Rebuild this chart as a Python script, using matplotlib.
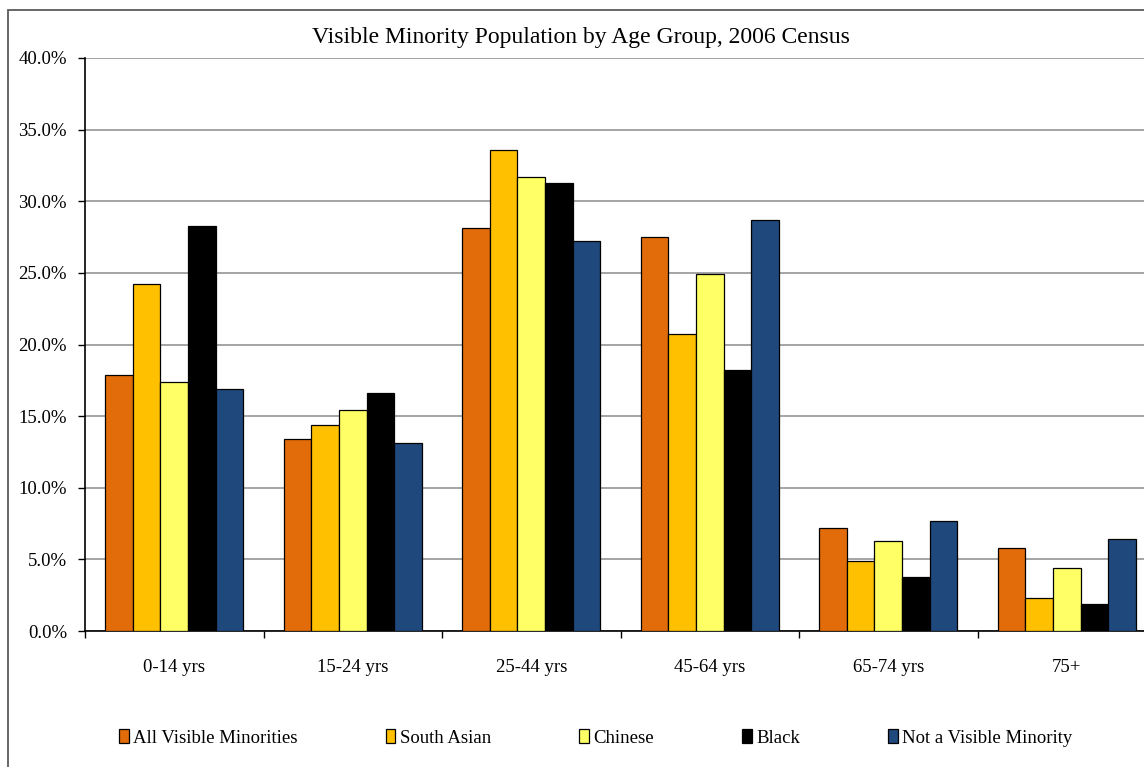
import matplotlib
matplotlib.use("Agg")
import matplotlib.pyplot as plt
import numpy as np
from matplotlib.patches import Rectangle, Patch
from matplotlib.ticker import FuncFormatter, MultipleLocator

plt.rcParams['font.family'] = ['Liberation Serif', 'DejaVu Serif']

age_groups = ["0-14 yrs", "15-24 yrs", "25-44 yrs", "45-64 yrs", "65-74 yrs", "75+"]
series_names = ["All Visible Minorities", "South Asian", "Chinese", "Black",
                "Not a Visible Minority"]
all_visible = [17.9, 13.4, 28.1, 27.5, 7.2, 5.8]
south_asian = [24.2, 14.4, 33.6, 20.7, 4.9, 2.3]
chinese = [17.4, 15.4, 31.7, 24.9, 6.3, 4.4]
black = [28.3, 16.6, 31.3, 18.2, 3.8, 1.9]
not_visible = [16.9, 13.1, 27.2, 28.7, 7.7, 6.4]
series_values = [all_visible, south_asian, chinese, black, not_visible]
colors = ["#E36C0A", "#FFC000", "#FFFF66", "#000000", "#1F497D"]

W, H = 1144, 767
fig = plt.figure(figsize=(W / 100, H / 100), dpi=100)

# plot area (right edge runs past the canvas)
left, right, top, bottom = 85, 1156, 58, 631
ax = fig.add_axes([left / W, 1 - bottom / H, (right - left) / W, (bottom - top) / H])

x = np.arange(len(age_groups))
bw = 0.155
for i, (vals, col) in enumerate(zip(series_values, colors)):
    ax.bar(x + (i - 2) * bw, vals, width=bw, color=col, edgecolor="black",
           linewidth=0.9, zorder=3)

ax.set_xlim(-0.5, len(age_groups) - 0.5)
ax.set_ylim(0, 40)
ax.yaxis.set_major_locator(MultipleLocator(5))
ax.yaxis.set_major_formatter(FuncFormatter(lambda v, p: f"{v:.1f}%"))
ax.grid(axis="y", color="#8c8c8c", linewidth=1.1, zorder=0)
ax.set_axisbelow(True)

ax.set_xticks(x)
ax.set_xticklabels(age_groups)
ax.set_xticks(np.arange(-0.5, len(age_groups), 1.0), minor=True)
ax.tick_params(axis="x", which="major", length=0, pad=20, labelsize=13.5)
ax.tick_params(axis="x", which="minor", length=5, width=1, direction="out")
ax.tick_params(axis="y", length=5, width=1, direction="out", pad=8, labelsize=13.5)

for s in ("top", "right"):
    ax.spines[s].set_visible(False)
for s in ("left", "bottom"):
    ax.spines[s].set_color("black")
    ax.spines[s].set_linewidth(1.2)

fig.text(581 / W, 1 - 38 / H, "Visible Minority Population by Age Group, 2006 Census",
         ha="center", va="center", fontsize=17)

# outer chart frame
fig.patches.append(Rectangle((8 / W, -0.05), 1.1, 1 - 10 / H + 0.05,
                             transform=fig.transFigure, fill=False,
                             edgecolor="#5a5a5a", linewidth=1.3))

handles = [Patch(facecolor=c, edgecolor="black", linewidth=0.9) for c in colors]
fig.legend(handles, series_names, loc="center", bbox_to_anchor=(596 / W, 1 - 738 / H),
           ncol=5, frameon=False, fontsize=13.5, handlelength=0.5, handleheight=0.75,
           handletextpad=0.25, columnspacing=4.7)

fig.savefig("out.png", dpi=100)
